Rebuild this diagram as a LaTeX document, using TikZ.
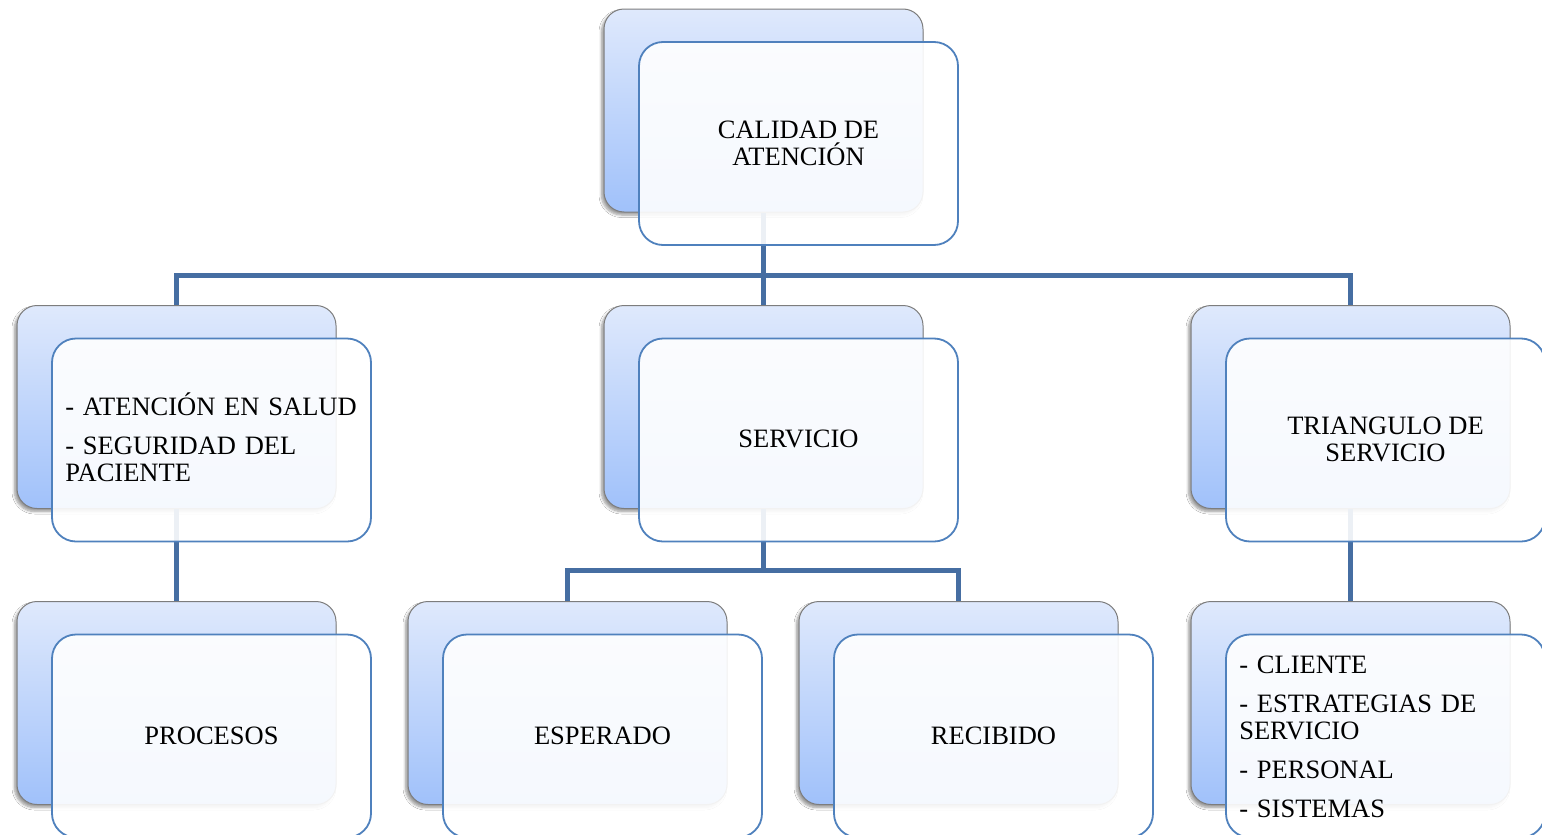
\documentclass[tikz,border=0pt]{standalone}
\usepackage{fontspec}
\setmainfont{Liberation Serif}
\usetikzlibrary{shadows.blur}

\definecolor{backtop}{RGB}{223,233,252}
\definecolor{backbot}{RGB}{160,193,250}
\definecolor{backedge}{RGB}{125,125,125}
\definecolor{frontedge}{RGB}{79,129,189}
\definecolor{linkblue}{RGB}{70,110,162}

\tikzset{
  backbox/.style={draw=backedge, line width=1pt, rounded corners=20pt,
    top color=backtop, bottom color=backbot,
    minimum width=319pt, minimum height=203pt, inner sep=0pt,
    blur shadow={shadow xshift=-2.5pt, shadow yshift=-3pt,
      shadow blur radius=2.5pt, shadow blur steps=6, shadow opacity=40}},
  frontbox/.style={draw=frontedge, line width=1.8pt, rounded corners=24pt,
    fill=white, fill opacity=0.9,
    minimum width=319pt, minimum height=203pt, inner sep=0pt},
  boxtext/.style={font=\fontsize{26.5}{27}\selectfont, inner sep=0pt,
    align=center},
  listtext/.style={boxtext, align=left, text width=300pt, anchor=west,
    execute at begin node={\setlength{\parskip}{12pt}\hyphenpenalty=10000}},
  link/.style={draw=linkblue, line width=5pt}
}

\begin{document}
\begin{tikzpicture}[x=1pt, y=-1pt]
  \useasboundingbox (0,0) rectangle (1542,835);
  \clip (0,0) rectangle (1542,835);
  \fill[white] (0,0) rectangle (1542,835);

  % rear shaded cards
  \node[backbox] (top-b) at (763.5,110.5) {};
  \node[backbox] (l2-b) at (176.5,407) {};
  \node[backbox] (m2-b) at (763.5,407) {};
  \node[backbox] (r2-b) at (1350.5,407) {};
  \node[backbox] (l3-b) at (176.5,703) {};
  \node[backbox] (e3-b) at (567.5,703) {};
  \node[backbox] (c3-b) at (958.5,703) {};
  \node[backbox] (r3-b) at (1350.5,703) {};

  % hierarchy connectors
  \coordinate (j0) at (763.5,275);
  \coordinate (j1) at (763.5,570);
  \draw[link] (top-b.south) -- (j0);
  \draw[link] (l2-b.north) |- (j0) -| (r2-b.north);
  \draw[link] (j0) -- (m2-b.north);
  \draw[link] (l2-b.south) -- (l3-b.north);
  \draw[link] (m2-b.south) -- (j1);
  \draw[link] (e3-b.north) |- (j1) -| (c3-b.north);
  \draw[link] (r2-b.south) -- (r3-b.north);

  % front cards
  \node[frontbox] (top-f) at (798.5,143.5) {};
  \node[frontbox] (l2-f) at (211.5,440) {};
  \node[frontbox] (m2-f) at (798.5,440) {};
  \node[frontbox] (r2-f) at (1385.5,440) {};
  \node[frontbox] (l3-f) at (211.5,736) {};
  \node[frontbox] (e3-f) at (602.5,736) {};
  \node[frontbox] (c3-f) at (993.5,736) {};
  \node[frontbox] (r3-f) at (1385.5,736) {};

  % card texts
  \node[boxtext] (t-top) at (top-f) {CALIDAD DE\\ATENCIÓN};
  \node[listtext] (t-l2) at ([xshift=14pt,yshift=3pt]l2-f.west)
    {- ATENCIÓN EN SALUD\par - SEGURIDAD DEL PACIENTE};
  \node[boxtext] (t-m2) at ([yshift=1pt]m2-f) {SERVICIO};
  \node[boxtext] (t-r2) at ([yshift=1pt]r2-f) {TRIANGULO DE\\SERVICIO};
  \node[boxtext] (t-l3) at (l3-f) {PROCESOS};
  \node[boxtext] (t-e3) at (e3-f) {ESPERADO};
  \node[boxtext] (t-c3) at (c3-f) {RECIBIDO};
  \node[listtext] (t-r3) at ([xshift=14pt,yshift=-1pt]r3-f.west)
    {- CLIENTE\par - ESTRATEGIAS DE SERVICIO\par - PERSONAL\par - SISTEMAS};
\end{tikzpicture}
\end{document}
